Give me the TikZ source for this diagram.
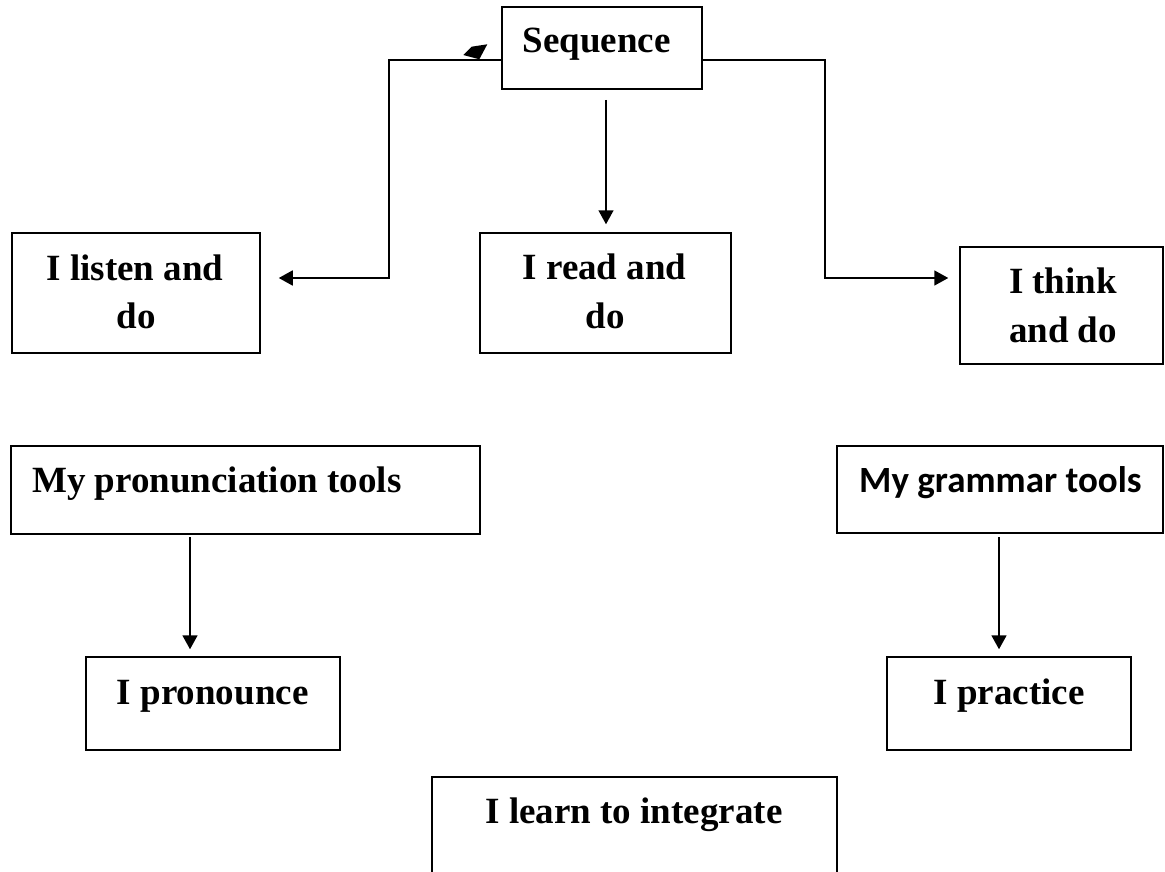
\documentclass[tikz,border=0pt]{standalone}
\usepackage{fontspec}
\setmainfont{Liberation Serif}
\newfontfamily\calibfont{Carlito}
\usetikzlibrary{arrows.meta}
\tikzset{
  box/.style={draw=black, line width=1.5pt, rectangle, inner sep=0pt},
  lbl/.style={inner sep=0pt, anchor=base, font=\fontsize{37}{44}\selectfont\bfseries},
  arr/.style={draw=black, line width=1.8pt, -{Triangle[length=14pt,width=15pt]}},
}
\begin{document}
\begin{tikzpicture}[x=1pt,y=-1pt]
\useasboundingbox (0,0) rectangle (1165,872);
\clip (0,0) rectangle (1165,872);
% boxes
\node[box, minimum width=200pt, minimum height=82pt] (seq) at (602,48) {};
\node[box, minimum width=248pt, minimum height=120pt] (listen) at (136,293) {};
\node[box, minimum width=251pt, minimum height=120pt] (read) at (605.5,293) {};
\node[box, minimum width=203pt, minimum height=117pt] (think) at (1061.5,305.5) {};
\node[box, minimum width=469pt, minimum height=88pt] (pron) at (245.5,490) {};
\node[box, minimum width=326pt, minimum height=87pt] (gram) at (1000,489.5) {};
\node[box, minimum width=254pt, minimum height=93pt] (pronounce) at (213,703.5) {};
\node[box, minimum width=244pt, minimum height=93pt] (practice) at (1009,703.5) {};
\node[box, minimum width=405pt, minimum height=123pt] (learn) at (634.5,838.5) {};
% texts
\node[lbl] (seqt) at (596.5,53) {Sequence};
\node[lbl] (listent1) at (135,280) {I listen and};
\node[lbl] (listent2) at (136,328) {do};
\node[lbl] (readt1) at (604.5,279) {I read and};
\node[lbl] (readt2) at (605,328) {do};
\node[lbl] (thinkt1) at (1063,293) {I think};
\node[lbl] (thinkt2) at (1063,342) {and do};
\node[lbl, anchor=base west] (pront) at (32,492) {My pronunciation tools};
\node[lbl, anchor=base west, font=\fontsize{37}{44}\selectfont\calibfont\bfseries] (gramt) at (859,492) {My grammar tools};
\node[lbl] (pronouncet) at (212.7,704) {I pronounce};
\node[lbl] (practicet) at (1009,704) {I practice};
\node[lbl] (learnt) at (634,823) {I learn to integrate};
% connectors
\coordinate (lb) at (389,278);
\coordinate (rb) at (825,278);
\draw[arr] ([yshift=-12pt]seq.west) -| (lb) -- ([xshift=18pt]lb -| listen.east);
\fill (463.3,55) -- (471.7,46.7) -- (487.3,44.3) -- (479.3,59.3) -- cycle;
\draw[arr] ([yshift=-12pt]seq.east) -| (rb) -- ([xshift=-11pt]rb -| think.west);
\coordinate (sd) at (606,100);
\draw[arr, line width=1.5pt] (sd) -- ([yshift=8pt]sd |- read.north);
\coordinate (pd) at (190,537);
\draw[arr] (pd) -- ([yshift=7pt]pd |- pronounce.north);
\coordinate (gd) at (999,537);
\draw[arr] (gd) -- ([yshift=7pt]gd |- practice.north);
\end{tikzpicture}
\end{document}
